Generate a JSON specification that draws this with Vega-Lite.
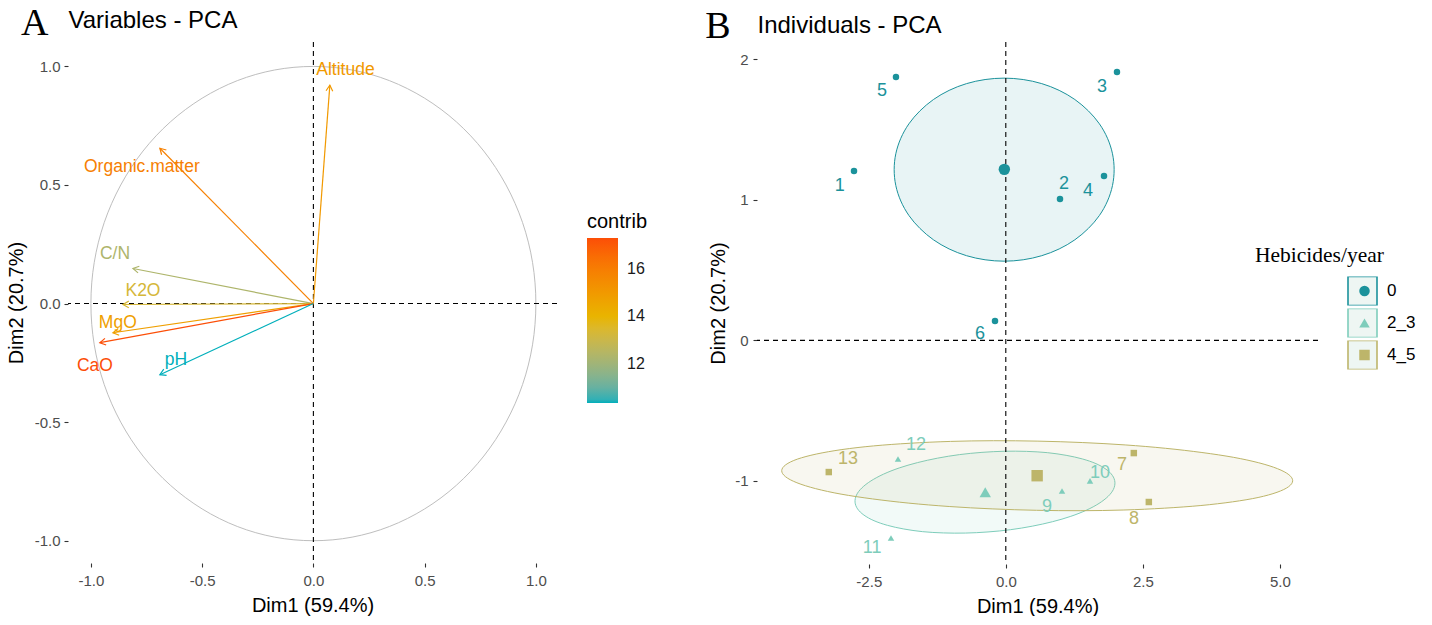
{
  "$schema": "https://vega.github.io/schema/vega-lite/v6.json",
  "background": "white",
  "padding": {"left": 6, "top": 4, "right": 0, "bottom": 0},
  "spacing": 200,
  "bounds": "flush",
  "resolve": {
    "scale": {"color": "independent", "stroke": "independent", "fill": "independent", "shape": "independent"},
    "legend": {"color": "independent", "stroke": "independent", "fill": "independent", "shape": "independent"}
  },
  "config": {
    "view": {"stroke": null},
    "font": "Liberation Sans",
    "axis": {"grid": false, "domain": false, "tickColor": "#333333", "tickSize": 4, "tickWidth": 1.1, "labelColor": "#4D4D4D", "labelFontSize": 15, "labelFont": "Liberation Sans", "titleFont": "Liberation Sans", "titleFontSize": 20, "titleFontWeight": "normal", "titleColor": "#000000", "labelPadding": 4, "labelExpr": "replace(datum.label, '\u2212', '-')"},
    "legend": {"labelFont": "Liberation Sans", "titleFont": "Liberation Sans"}
  },
  "datasets": {
    "variables": [
      {"name": "Altitude", "x": 0.074, "y": 0.921, "contrib": 15.0, "lx": 0.144, "ly": 0.984},
      {"name": "Organic.matter", "x": -0.69, "y": 0.655, "contrib": 15.9, "lx": -0.771, "ly": 0.575},
      {"name": "C/N", "x": -0.811, "y": 0.148, "contrib": 12.3, "lx": -0.892, "ly": 0.211},
      {"name": "K2O", "x": -0.856, "y": -0.004, "contrib": 13.3, "lx": -0.766, "ly": 0.051},
      {"name": "MgO", "x": -0.901, "y": -0.123, "contrib": 14.8, "lx": -0.879, "ly": -0.08},
      {"name": "CaO", "x": -0.96, "y": -0.165, "contrib": 17.3, "lx": -0.982, "ly": -0.262},
      {"name": "pH", "x": -0.69, "y": -0.3, "contrib": 10.35, "lx": -0.618, "ly": -0.237}
    ],
    "circle": [
      {"i": 0, "cx": 1, "cy": 0}, {"i": 1, "cx": 0.985, "cy": 0.174}, {"i": 2, "cx": 0.94, "cy": 0.342}, {"i": 3, "cx": 0.866, "cy": 0.5},
      {"i": 4, "cx": 0.766, "cy": 0.643}, {"i": 5, "cx": 0.643, "cy": 0.766}, {"i": 6, "cx": 0.5, "cy": 0.866}, {"i": 7, "cx": 0.342, "cy": 0.94},
      {"i": 8, "cx": 0.174, "cy": 0.985}, {"i": 9, "cx": 0, "cy": 1}, {"i": 10, "cx": -0.174, "cy": 0.985}, {"i": 11, "cx": -0.342, "cy": 0.94},
      {"i": 12, "cx": -0.5, "cy": 0.866}, {"i": 13, "cx": -0.643, "cy": 0.766}, {"i": 14, "cx": -0.766, "cy": 0.643}, {"i": 15, "cx": -0.866, "cy": 0.5},
      {"i": 16, "cx": -0.94, "cy": 0.342}, {"i": 17, "cx": -0.985, "cy": 0.174}, {"i": 18, "cx": -1, "cy": 0}, {"i": 19, "cx": -0.985, "cy": -0.174},
      {"i": 20, "cx": -0.94, "cy": -0.342}, {"i": 21, "cx": -0.866, "cy": -0.5}, {"i": 22, "cx": -0.766, "cy": -0.643}, {"i": 23, "cx": -0.643, "cy": -0.766},
      {"i": 24, "cx": -0.5, "cy": -0.866}, {"i": 25, "cx": -0.342, "cy": -0.94}, {"i": 26, "cx": -0.174, "cy": -0.985}, {"i": 27, "cx": 0, "cy": -1},
      {"i": 28, "cx": 0.174, "cy": -0.985}, {"i": 29, "cx": 0.342, "cy": -0.94}, {"i": 30, "cx": 0.5, "cy": -0.866}, {"i": 31, "cx": 0.643, "cy": -0.766},
      {"i": 32, "cx": 0.766, "cy": -0.643}, {"i": 33, "cx": 0.866, "cy": -0.5}, {"i": 34, "cx": 0.94, "cy": -0.342}, {"i": 35, "cx": 0.985, "cy": -0.174}
    ],
    "individuals": [
      {"id": "1", "g": "0", "x": -2.77, "y": 1.204, "lx": -3.03, "ly": 1.097},
      {"id": "2", "g": "0", "x": 0.989, "y": 1.005, "lx": 1.06, "ly": 1.11},
      {"id": "3", "g": "0", "x": 2.029, "y": 1.908, "lx": 1.755, "ly": 1.8},
      {"id": "4", "g": "0", "x": 1.792, "y": 1.169, "lx": 1.5, "ly": 1.06},
      {"id": "5", "g": "0", "x": -2.004, "y": 1.873, "lx": -2.26, "ly": 1.773},
      {"id": "6", "g": "0", "x": -0.197, "y": 0.137, "lx": -0.47, "ly": 0.045},
      {"id": "7", "g": "4_5", "x": 2.336, "y": -0.802, "lx": 2.12, "ly": -0.887},
      {"id": "8", "g": "4_5", "x": 2.61, "y": -1.15, "lx": 2.34, "ly": -1.27},
      {"id": "9", "g": "2_3", "x": 1.026, "y": -1.072, "lx": 0.75, "ly": -1.186},
      {"id": "10", "g": "2_3", "x": 1.537, "y": -1.0, "lx": 1.72, "ly": -0.944},
      {"id": "11", "g": "2_3", "x": -2.095, "y": -1.406, "lx": -2.44, "ly": -1.477},
      {"id": "12", "g": "2_3", "x": -1.967, "y": -0.844, "lx": -1.64, "ly": -0.745},
      {"id": "13", "g": "4_5", "x": -3.23, "y": -0.937, "lx": -2.88, "ly": -0.844}
    ],
    "ellipses": [
      {"g": "0", "i": 0, "x": 1.977, "y": 1.214}, {"g": "0", "i": 1, "x": 1.947, "y": 1.327}, {"g": "0", "i": 2, "x": 1.856, "y": 1.437}, {"g": "0", "i": 3, "x": 1.708, "y": 1.54},
      {"g": "0", "i": 4, "x": 1.507, "y": 1.632}, {"g": "0", "i": 5, "x": 1.26, "y": 1.713}, {"g": "0", "i": 6, "x": 0.974, "y": 1.778}, {"g": "0", "i": 7, "x": 0.656, "y": 1.826},
      {"g": "0", "i": 8, "x": 0.318, "y": 1.855}, {"g": "0", "i": 9, "x": -0.03, "y": 1.865}, {"g": "0", "i": 10, "x": -0.378, "y": 1.855}, {"g": "0", "i": 11, "x": -0.716, "y": 1.826},
      {"g": "0", "i": 12, "x": -1.034, "y": 1.778}, {"g": "0", "i": 13, "x": -1.32, "y": 1.713}, {"g": "0", "i": 14, "x": -1.567, "y": 1.632}, {"g": "0", "i": 15, "x": -1.768, "y": 1.54},
      {"g": "0", "i": 16, "x": -1.916, "y": 1.437}, {"g": "0", "i": 17, "x": -2.007, "y": 1.327}, {"g": "0", "i": 18, "x": -2.037, "y": 1.214}, {"g": "0", "i": 19, "x": -2.007, "y": 1.101},
      {"g": "0", "i": 20, "x": -1.916, "y": 0.991}, {"g": "0", "i": 21, "x": -1.768, "y": 0.888}, {"g": "0", "i": 22, "x": -1.567, "y": 0.796}, {"g": "0", "i": 23, "x": -1.32, "y": 0.715},
      {"g": "0", "i": 24, "x": -1.034, "y": 0.65}, {"g": "0", "i": 25, "x": -0.716, "y": 0.602}, {"g": "0", "i": 26, "x": -0.378, "y": 0.573}, {"g": "0", "i": 27, "x": -0.03, "y": 0.563},
      {"g": "0", "i": 28, "x": 0.318, "y": 0.573}, {"g": "0", "i": 29, "x": 0.656, "y": 0.602}, {"g": "0", "i": 30, "x": 0.974, "y": 0.65}, {"g": "0", "i": 31, "x": 1.26, "y": 0.715},
      {"g": "0", "i": 32, "x": 1.507, "y": 0.796}, {"g": "0", "i": 33, "x": 1.708, "y": 0.888}, {"g": "0", "i": 34, "x": 1.856, "y": 0.991}, {"g": "0", "i": 35, "x": 1.947, "y": 1.101},
      {"g": "2_3", "i": 0, "x": 1.991, "y": -1.009}, {"g": "2_3", "i": 1, "x": 1.945, "y": -0.961}, {"g": "2_3", "i": 2, "x": 1.829, "y": -0.917}, {"g": "2_3", "i": 3, "x": 1.645, "y": -0.877},
      {"g": "2_3", "i": 4, "x": 1.4, "y": -0.844}, {"g": "2_3", "i": 5, "x": 1.101, "y": -0.818}, {"g": "2_3", "i": 6, "x": 0.757, "y": -0.799}, {"g": "2_3", "i": 7, "x": 0.379, "y": -0.79},
      {"g": "2_3", "i": 8, "x": -0.023, "y": -0.789}, {"g": "2_3", "i": 9, "x": -0.435, "y": -0.797}, {"g": "2_3", "i": 10, "x": -0.846, "y": -0.813}, {"g": "2_3", "i": 11, "x": -1.243, "y": -0.838},
      {"g": "2_3", "i": 12, "x": -1.613, "y": -0.87}, {"g": "2_3", "i": 13, "x": -1.946, "y": -0.908}, {"g": "2_3", "i": 14, "x": -2.232, "y": -0.952}, {"g": "2_3", "i": 15, "x": -2.461, "y": -1.0},
      {"g": "2_3", "i": 16, "x": -2.627, "y": -1.05}, {"g": "2_3", "i": 17, "x": -2.724, "y": -1.1}, {"g": "2_3", "i": 18, "x": -2.751, "y": -1.151}, {"g": "2_3", "i": 19, "x": -2.705, "y": -1.199},
      {"g": "2_3", "i": 20, "x": -2.589, "y": -1.243}, {"g": "2_3", "i": 21, "x": -2.405, "y": -1.283}, {"g": "2_3", "i": 22, "x": -2.16, "y": -1.316}, {"g": "2_3", "i": 23, "x": -1.861, "y": -1.342},
      {"g": "2_3", "i": 24, "x": -1.517, "y": -1.361}, {"g": "2_3", "i": 25, "x": -1.139, "y": -1.37}, {"g": "2_3", "i": 26, "x": -0.737, "y": -1.371}, {"g": "2_3", "i": 27, "x": -0.325, "y": -1.363},
      {"g": "2_3", "i": 28, "x": 0.086, "y": -1.347}, {"g": "2_3", "i": 29, "x": 0.483, "y": -1.322}, {"g": "2_3", "i": 30, "x": 0.854, "y": -1.29}, {"g": "2_3", "i": 31, "x": 1.186, "y": -1.252},
      {"g": "2_3", "i": 32, "x": 1.472, "y": -1.208}, {"g": "2_3", "i": 33, "x": 1.701, "y": -1.16}, {"g": "2_3", "i": 34, "x": 1.867, "y": -1.11}, {"g": "2_3", "i": 35, "x": 1.964, "y": -1.06},
      {"g": "4_5", "i": 0, "x": 5.235, "y": -0.999}, {"g": "4_5", "i": 1, "x": 5.166, "y": -0.956}, {"g": "4_5", "i": 2, "x": 4.958, "y": -0.913}, {"g": "4_5", "i": 3, "x": 4.616, "y": -0.871},
      {"g": "4_5", "i": 4, "x": 4.152, "y": -0.832}, {"g": "4_5", "i": 5, "x": 3.579, "y": -0.798}, {"g": "4_5", "i": 6, "x": 2.915, "y": -0.768}, {"g": "4_5", "i": 7, "x": 2.179, "y": -0.744},
      {"g": "4_5", "i": 8, "x": 1.395, "y": -0.727}, {"g": "4_5", "i": 9, "x": 0.586, "y": -0.717}, {"g": "4_5", "i": 10, "x": -0.224, "y": -0.714}, {"g": "4_5", "i": 11, "x": -1.009, "y": -0.719},
      {"g": "4_5", "i": 12, "x": -1.747, "y": -0.732}, {"g": "4_5", "i": 13, "x": -2.414, "y": -0.751}, {"g": "4_5", "i": 14, "x": -2.99, "y": -0.777}, {"g": "4_5", "i": 15, "x": -3.458, "y": -0.809},
      {"g": "4_5", "i": 16, "x": -3.803, "y": -0.845}, {"g": "4_5", "i": 17, "x": -4.015, "y": -0.885}, {"g": "4_5", "i": 18, "x": -4.089, "y": -0.927}, {"g": "4_5", "i": 19, "x": -4.02, "y": -0.97},
      {"g": "4_5", "i": 20, "x": -3.812, "y": -1.013}, {"g": "4_5", "i": 21, "x": -3.47, "y": -1.055}, {"g": "4_5", "i": 22, "x": -3.006, "y": -1.094}, {"g": "4_5", "i": 23, "x": -2.433, "y": -1.128},
      {"g": "4_5", "i": 24, "x": -1.769, "y": -1.158}, {"g": "4_5", "i": 25, "x": -1.033, "y": -1.182}, {"g": "4_5", "i": 26, "x": -0.249, "y": -1.199}, {"g": "4_5", "i": 27, "x": 0.56, "y": -1.209},
      {"g": "4_5", "i": 28, "x": 1.37, "y": -1.212}, {"g": "4_5", "i": 29, "x": 2.155, "y": -1.207}, {"g": "4_5", "i": 30, "x": 2.893, "y": -1.194}, {"g": "4_5", "i": 31, "x": 3.56, "y": -1.175},
      {"g": "4_5", "i": 32, "x": 4.136, "y": -1.149}, {"g": "4_5", "i": 33, "x": 4.604, "y": -1.118}, {"g": "4_5", "i": 34, "x": 4.949, "y": -1.081}, {"g": "4_5", "i": 35, "x": 5.161, "y": -1.041}
    ]
  },
  "hconcat": [
    {
      "width": 489,
      "height": 521,
      "resolve": {"axis": {"x": "independent", "y": "independent"}},
      "layer": [
        {
          "data": {"name": "circle"},
          "mark": {"type": "line", "color": "#BEBEBE", "strokeWidth": 1, "interpolate": "cardinal-closed"},
          "encoding": {
            "x": {"field": "cx", "type": "quantitative", "scale": {"domain": [-1.103, 1.095], "nice": false, "zero": false}, "axis": {"title": "Dim1 (59.4%)", "values": [-1, -0.5, 0, 0.5, 1], "format": ".1f", "labelPadding": 6, "titlePadding": 7}},
            "y": {"field": "cy", "type": "quantitative", "scale": {"domain": [-1.094, 1.103], "nice": false, "zero": false}, "axis": {"title": "Dim2 (20.7%)", "values": [-1, -0.5, 0, 0.5, 1], "format": ".1f", "titlePadding": 8}},
            "order": {"field": "i", "type": "quantitative"}
          }
        },
        {
          "data": {"values": [{}]},
          "mark": {"type": "rule", "color": "black", "strokeDash": [5, 4], "strokeWidth": 1.1},
          "encoding": {
            "y": {"datum": 0, "type": "quantitative", "scale": {"domain": [-1.094, 1.103], "nice": false, "zero": false}, "axis": null}
          }
        },
        {
          "data": {"values": [{}]},
          "mark": {"type": "rule", "color": "black", "strokeDash": [5, 4], "strokeWidth": 1.1},
          "encoding": {
            "x": {"datum": 0, "type": "quantitative", "scale": {"domain": [-1.103, 1.095], "nice": false, "zero": false}, "axis": {"orient": "top", "title": "Variables - PCA", "labels": false, "ticks": false, "domain": false, "titleAnchor": "start", "titleAlign": "left", "titleBaseline": "alphabetic", "titlePadding": 15, "titleFontSize": 24}}
          }
        },
        {
          "data": {"name": "variables"},
          "mark": {"type": "rule", "strokeWidth": 1.2},
          "encoding": {
            "x": {"field": "x", "type": "quantitative", "scale": {"domain": [-1.103, 1.095], "nice": false, "zero": false}, "axis": {"orient": "top", "title": "A", "labels": false, "ticks": false, "domain": false, "titleFont": "Liberation Serif", "titleFontSize": 38, "titleAlign": "right", "titleX": -20, "titleBaseline": "alphabetic", "titlePadding": 8}},
            "x2": {"datum": 0},
            "y": {"field": "y", "type": "quantitative", "scale": {"domain": [-1.094, 1.103], "nice": false, "zero": false}, "axis": null},
            "y2": {"datum": 0},
            "color": {"field": "contrib", "type": "quantitative", "scale": {"domain": [10.35, 13.825, 17.3], "range": ["#00AFBB", "#E7B800", "#FC4E07"], "interpolate": "lab"},
              "legend": {"type": "gradient", "direction": "vertical", "title": "contrib", "orient": "none", "legendX": 519, "legendY": 170, "gradientLength": 165, "gradientThickness": 31, "values": [12, 14, 16], "titleFontSize": 20, "titleFontWeight": "normal", "titleColor": "#000000", "labelFontSize": 16, "labelColor": "#1A1A1A", "labelOffset": 9, "titlePadding": 6, "padding": 0, "gradientStrokeWidth": 0}}
          }
        },
        {
          "data": {"name": "variables"},
          "transform": [{"calculate": "atan2(datum.x * 222.5, datum.y * 236.7) * 180 / PI", "as": "heading"}],
          "mark": {"type": "point", "shape": "M -0.5 0.87 L 0 0 L 0.5 0.87", "filled": false, "size": 180, "strokeWidth": 1.2, "opacity": 1},
          "encoding": {
            "x": {"field": "x", "type": "quantitative", "scale": {"domain": [-1.103, 1.095], "nice": false, "zero": false}, "axis": null},
            "y": {"field": "y", "type": "quantitative", "scale": {"domain": [-1.094, 1.103], "nice": false, "zero": false}, "axis": null},
            "angle": {"field": "heading", "type": "quantitative", "scale": null},
            "color": {"field": "contrib", "type": "quantitative",
              "legend": {"type": "gradient", "direction": "vertical", "title": "contrib", "orient": "none", "legendX": 519, "legendY": 170, "gradientLength": 165, "gradientThickness": 31, "values": [12, 14, 16], "titleFontSize": 20, "titleFontWeight": "normal", "titleColor": "#000000", "labelFontSize": 16, "labelColor": "#1A1A1A", "labelOffset": 9, "titlePadding": 6, "padding": 0, "gradientStrokeWidth": 0}}
          }
        },
        {
          "data": {"name": "variables"},
          "mark": {"type": "text", "fontSize": 17.5, "font": "Liberation Sans", "baseline": "middle", "align": "center"},
          "encoding": {
            "x": {"field": "lx", "type": "quantitative", "scale": {"domain": [-1.103, 1.095], "nice": false, "zero": false}, "axis": null},
            "y": {"field": "ly", "type": "quantitative", "scale": {"domain": [-1.094, 1.103], "nice": false, "zero": false}, "axis": null},
            "text": {"field": "name"},
            "fill": {"field": "contrib", "type": "quantitative", "scale": {"domain": [10.35, 13.826, 17.3001], "range": ["#00AFBB", "#E7B800", "#FC4E07"], "interpolate": "lab"}, "legend": null}
          }
        }
      ]
    },
    {
      "width": 561,
      "height": 522,
      "resolve": {"axis": {"x": "independent", "y": "independent"}},
      "layer": [
        {
          "data": {"name": "ellipses"},
          "mark": {"type": "line", "strokeWidth": 1, "interpolate": "cardinal-closed", "fillOpacity": 0.1},
          "encoding": {
            "x": {"field": "x", "type": "quantitative", "scale": {"domain": [-4.54, 5.697], "nice": false, "zero": false}, "axis": {"title": "Dim1 (59.4%)", "values": [-2.5, 0, 2.5, 5], "format": ".1f", "labelPadding": 6, "titlePadding": 7}},
            "y": {"field": "y", "type": "quantitative", "scale": {"domain": [-1.591, 2.122], "nice": false, "zero": false}, "axis": {"title": "Dim2 (20.7%)", "values": [-1, 0, 1, 2], "format": "d", "titlePadding": 6, "labelPadding": 5}},
            "order": {"field": "i", "type": "quantitative"},
            "stroke": {"field": "g", "type": "nominal", "scale": {"range": ["#1B929B", "#7ECDBB", "#BDB56A"]},
              "legend": {"title": "Hebicides/year", "orient": "none", "legendX": 498, "legendY": 203, "zindex": 0, "symbolType": "square", "symbolSize": 841, "symbolStrokeWidth": 1.6, "symbolFillColor": "rgba(150, 200, 180, 0.16)", "clipHeight": 29, "rowPadding": 3, "symbolOffset": 92, "labelOffset": 9, "titleFont": "Liberation Serif", "titleFontSize": 21.5, "titleFontWeight": "normal", "titleColor": "#000000", "labelFontSize": 17, "labelColor": "#000000", "padding": 0, "titlePadding": 10}},
            "fill": {"field": "g", "type": "nominal", "scale": {"range": ["#1B929B", "#7ECDBB", "#BDB56A"]}, "legend": null}
          }
        },
        {
          "data": {"values": [{}]},
          "mark": {"type": "rule", "color": "black", "strokeDash": [5, 4], "strokeWidth": 1.1},
          "encoding": {
            "y": {"datum": 0, "type": "quantitative", "scale": {"domain": [-1.591, 2.122], "nice": false, "zero": false}, "axis": null}
          }
        },
        {
          "data": {"values": [{}]},
          "mark": {"type": "rule", "color": "black", "strokeDash": [5, 4], "strokeWidth": 1.1},
          "encoding": {
            "x": {"datum": 0, "type": "quantitative", "scale": {"domain": [-4.54, 5.697], "nice": false, "zero": false}, "axis": {"orient": "top", "title": "Individuals - PCA", "labels": false, "ticks": false, "domain": false, "titleAnchor": "start", "titleAlign": "left", "titleBaseline": "alphabetic", "titlePadding": 10, "titleFontSize": 24}}
          }
        },
        {
          "data": {"name": "individuals"},
          "mark": {"type": "point", "filled": true, "size": 42, "opacity": 1},
          "encoding": {
            "x": {"field": "x", "type": "quantitative", "scale": {"domain": [-4.54, 5.697], "nice": false, "zero": false}, "axis": {"orient": "top", "title": "B", "labels": false, "ticks": false, "domain": false, "titleFont": "Liberation Serif", "titleFontSize": 38, "titleAlign": "right", "titleX": -27, "titleBaseline": "alphabetic", "titlePadding": 5}},
            "y": {"field": "y", "type": "quantitative", "scale": {"domain": [-1.591, 2.122], "nice": false, "zero": false}, "axis": null},
            "color": {"field": "g", "type": "nominal", "scale": {"domain": ["0", "2_3", "4_5"], "range": ["#1B929B", "#7ECDBB", "#BDB56A"]},
              "legend": {"title": "Hebicides/year", "orient": "none", "legendX": 498, "legendY": 203, "zindex": 1, "symbolSize": 110, "clipHeight": 29, "rowPadding": 3, "symbolOffset": 101, "labelOffset": 18, "labelExpr": "''", "titleFont": "Liberation Serif", "titleFontSize": 21.5, "titleFontWeight": "normal", "titleColor": "transparent", "labelFontSize": 17, "labelColor": "transparent", "padding": 0, "titlePadding": 10}},
            "shape": {"field": "g", "type": "nominal", "scale": {"domain": ["0", "2_3", "4_5"], "range": ["circle", "triangle-up", "square"]},
              "legend": {"title": "Hebicides/year", "orient": "none", "legendX": 498, "legendY": 203, "zindex": 1, "symbolSize": 110, "clipHeight": 29, "rowPadding": 3, "symbolOffset": 101, "labelOffset": 18, "labelExpr": "''", "titleFont": "Liberation Serif", "titleFontSize": 21.5, "titleFontWeight": "normal", "titleColor": "transparent", "labelFontSize": 17, "labelColor": "transparent", "padding": 0, "titlePadding": 10}}
          }
        },
        {
          "data": {"name": "individuals"},
          "transform": [{"aggregate": [{"op": "mean", "field": "x", "as": "x"}, {"op": "mean", "field": "y", "as": "y"}], "groupby": ["g"]}],
          "mark": {"type": "point", "filled": true, "size": 130, "opacity": 1},
          "encoding": {
            "x": {"field": "x", "type": "quantitative", "scale": {"domain": [-4.54, 5.697], "nice": false, "zero": false}, "axis": null},
            "y": {"field": "y", "type": "quantitative", "scale": {"domain": [-1.591, 2.122], "nice": false, "zero": false}, "axis": null},
            "color": {"field": "g", "type": "nominal", "scale": {"domain": ["0", "2_3", "4_5"], "range": ["#1B929B", "#7ECDBB", "#BDB56A"]},
              "legend": {"title": "Hebicides/year", "orient": "none", "legendX": 498, "legendY": 203, "zindex": 1, "symbolSize": 110, "clipHeight": 29, "rowPadding": 3, "symbolOffset": 101, "labelOffset": 18, "labelExpr": "''", "titleFont": "Liberation Serif", "titleFontSize": 21.5, "titleFontWeight": "normal", "titleColor": "transparent", "labelFontSize": 17, "labelColor": "transparent", "padding": 0, "titlePadding": 10}},
            "shape": {"field": "g", "type": "nominal", "scale": {"domain": ["0", "2_3", "4_5"], "range": ["circle", "triangle-up", "square"]},
              "legend": {"title": "Hebicides/year", "orient": "none", "legendX": 498, "legendY": 203, "zindex": 1, "symbolSize": 110, "clipHeight": 29, "rowPadding": 3, "symbolOffset": 101, "labelOffset": 18, "labelExpr": "''", "titleFont": "Liberation Serif", "titleFontSize": 21.5, "titleFontWeight": "normal", "titleColor": "transparent", "labelFontSize": 17, "labelColor": "transparent", "padding": 0, "titlePadding": 10}}
          }
        },
        {
          "data": {"name": "individuals"},
          "mark": {"type": "text", "fontSize": 18, "font": "Liberation Sans", "baseline": "middle", "align": "center"},
          "encoding": {
            "x": {"field": "lx", "type": "quantitative", "scale": {"domain": [-4.54, 5.697], "nice": false, "zero": false}, "axis": null},
            "y": {"field": "ly", "type": "quantitative", "scale": {"domain": [-1.591, 2.122], "nice": false, "zero": false}, "axis": null},
            "text": {"field": "id"},
            "fill": {"field": "g", "type": "nominal", "legend": null}
          }
        }
      ]
    }
  ]
}
